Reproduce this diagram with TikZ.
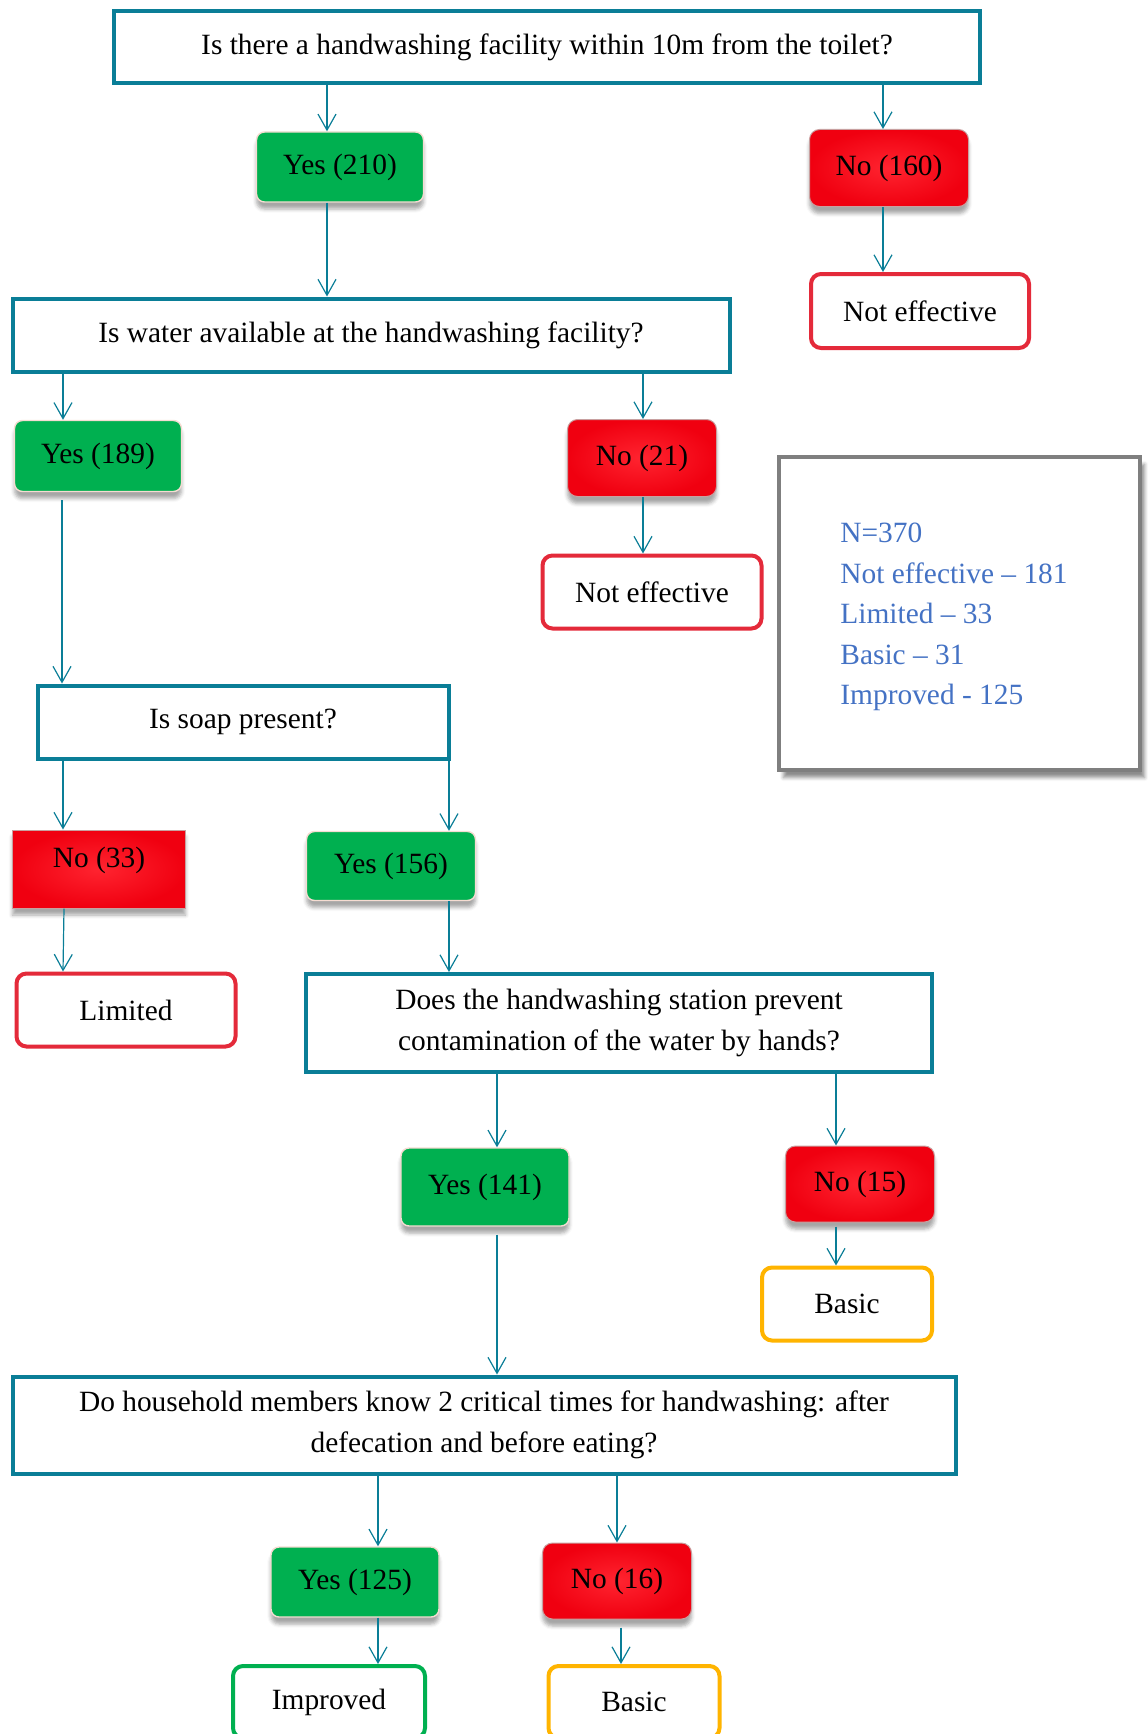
\documentclass[tikz,border=0pt]{standalone}
\usepackage{fontspec}
\setmainfont{Liberation Serif}
\usetikzlibrary{arrows.meta,shadows.blur}
\definecolor{hwteal}{HTML}{0A7E97}
\definecolor{hwgreen}{HTML}{00B050}
\definecolor{hwred}{HTML}{F00010}
\definecolor{hwredlite}{HTML}{FF2430}
\definecolor{hwrim}{HTML}{C8A0A0}
\definecolor{hwpink}{HTML}{F5DCD2}
\definecolor{hworange}{HTML}{FFB400}
\definecolor{hwcrimson}{HTML}{E42A3A}
\definecolor{hwleaf}{HTML}{00B050}
\definecolor{hwblue}{HTML}{4472C4}
\definecolor{hwgray}{HTML}{7F7F7F}

\tikzset{
  hwtext/.style={font=\fontsize{14.7}{20.5}\selectfont,text=black,inner sep=2pt},
  question/.style={hwtext,draw=hwteal,line width=2pt,fill=white,align=center},
  yesbox/.style={hwtext,fill=hwgreen,draw=hwpink,line width=0.7pt,rounded corners=4pt,
    blur shadow={shadow xshift=0pt,shadow yshift=-3.5pt,shadow opacity=35}},
  nobox/.style={hwtext,draw=hwrim,line width=0.5pt,rounded corners=5pt,
    inner color=hwredlite,outer color=hwred,
    blur shadow={shadow xshift=0pt,shadow yshift=-3.5pt,shadow opacity=35}},
  outcome/.style={hwtext,fill=white,line width=2pt,rounded corners=5pt},
  legendbox/.style={draw=hwgray,line width=2pt,fill=white,
    blur shadow={shadow xshift=2.5pt,shadow yshift=-4pt,shadow opacity=45}},
  arr/.style={draw=hwteal,line width=0.6pt,-{Straight Barb[length=8pt,width=9pt]}}
}

\begin{document}
\begin{tikzpicture}[x=0.5pt,y=-0.5pt]
  \useasboundingbox (0,0) rectangle (1147,1734);

  % questions
  \node[question,minimum width=433pt,minimum height=36pt] (q1) at (547,47)
    {Is there a handwashing facility within 10m from the toilet?};
  \node[question,minimum width=358.5pt,minimum height=36.5pt] (q2) at (371,335)
    {Is water available at the handwashing facility?};
  \node[question,minimum width=205.5pt,minimum height=36.5pt] (q3) at (243,722)
    {Is soap present?};
  \node[question,minimum width=313pt,minimum height=49pt] (q4) at (619,1023)
    {Does the handwashing station prevent\\contamination of the water by hands?};
  \node[question,minimum width=471.5pt,minimum height=48.5pt] (q5) at (484,1425)
    {Do household members know 2 critical times for handwashing: after\\defecation and before eating?};

  % answers
  \node[yesbox,minimum width=83.5pt,minimum height=35pt] (yes1) at (340,167) {Yes (210)};
  \node[nobox,minimum width=79.5pt,minimum height=38.5pt] (no1) at (889,168) {No (160)};
  \node[yesbox,minimum width=83.5pt,minimum height=35.5pt] (yes2) at (98,456) {Yes (189)};
  \node[nobox,minimum width=74.5pt,minimum height=38.5pt] (no2) at (642,458) {No (21)};
  \node[nobox,rounded corners=0pt,minimum width=86.5pt,minimum height=39pt,
    text height=10pt,text depth=12pt] (no3) at (99,869) {No (33)};
  \node[yesbox,minimum width=84.5pt,minimum height=34.5pt] (yes3) at (391,866) {Yes (156)};
  \node[yesbox,minimum width=84pt,minimum height=39pt] (yes4) at (485,1187) {Yes (141)};
  \node[nobox,minimum width=74.5pt,minimum height=38pt] (no4) at (860,1184) {No (15)};
  \node[yesbox,minimum width=84pt,minimum height=35pt] (yes5) at (355,1582) {Yes (125)};
  \node[nobox,minimum width=74.5pt,minimum height=38pt] (no5) at (617,1581) {No (16)};

  % outcomes
  \node[outcome,draw=hwcrimson,minimum width=109pt,minimum height=37pt] (ne1) at (920,311) {Not effective};
  \node[outcome,draw=hwcrimson,minimum width=109.5pt,minimum height=36.5pt] (ne2) at (652,592) {Not effective};
  \node[outcome,draw=hwcrimson,minimum width=109.5pt,minimum height=36.5pt] (lim) at (126,1010) {Limited};
  \node[outcome,draw=hworange,minimum width=85pt,minimum height=36.5pt] (basic1) at (847,1304) {Basic};
  \node[outcome,draw=hwleaf,minimum width=96pt,minimum height=36pt] (impr) at (329,1702) {Improved};
  \node[outcome,draw=hworange,minimum width=85.5pt,minimum height=36pt] (basic2) at (634,1702) {Basic};

  % totals
  \node[legendbox,minimum width=180.5pt,minimum height=156.5pt] (legend) at (959,613) {};
  \node[hwtext,text=hwblue,align=left,anchor=west,font=\fontsize{14.7}{20.3}\selectfont] (legtxt) at (836,617)
    {N=370\\Not effective – 181\\Limited – 33\\Basic – 31\\Improved - 125};

  % connectors
  \draw[arr] (q1.south -| 327,0) -- (yes1.north -| 327,0);
  \draw[arr] (q1.south -| 883,0) -- (no1.north -| 883,0);
  \draw[arr] (yes1.south -| 327,0) -- (q2.north -| 327,0);
  \draw[arr] (no1.south -| 883,0) -- (ne1.north -| 883,0);
  \draw[arr] (q2.south -| 63,0) -- (yes2.north -| 63,0);
  \draw[arr] (q2.south -| 643,0) -- (no2.north -| 643,0);
  \draw[arr] (no2.south -| 643,0) -- (ne2.north -| 643,0);
  \draw[arr,shorten <=4pt] (yes2.south -| 62,0) -- (q3.north -| 62,0);
  \draw[arr] (q3.south -| 63,0) -- (no3.north -| 63,0);
  \draw[arr] (q3.south -| 449,0) -- (yes3.north -| 449,0);
  \draw[arr] (no3.south -| 64,0) -- (lim.north -| 63,0);
  \draw[arr] (yes3.south -| 449,0) -- (q4.north -| 449,0);
  \draw[arr] (q4.south -| 497,0) -- (yes4.north -| 497,0);
  \draw[arr] (q4.south -| 836,0) -- (no4.north -| 836,0);
  \draw[arr,shorten <=2pt] (no4.south -| 836,0) -- (basic1.north -| 836,0);
  \draw[arr,shorten <=4pt] (yes4.south -| 497,0) -- (q5.north -| 497,0);
  \draw[arr] (q5.south -| 378,0) -- (yes5.north -| 378,0);
  \draw[arr] (q5.south -| 617,0) -- (no5.north -| 617,0);
  \draw[arr] (yes5.south -| 378,0) -- (impr.north -| 378,0);
  \draw[arr,shorten <=4pt] (no5.south -| 621,0) -- (basic2.north -| 621,0);
\end{tikzpicture}
\end{document}
